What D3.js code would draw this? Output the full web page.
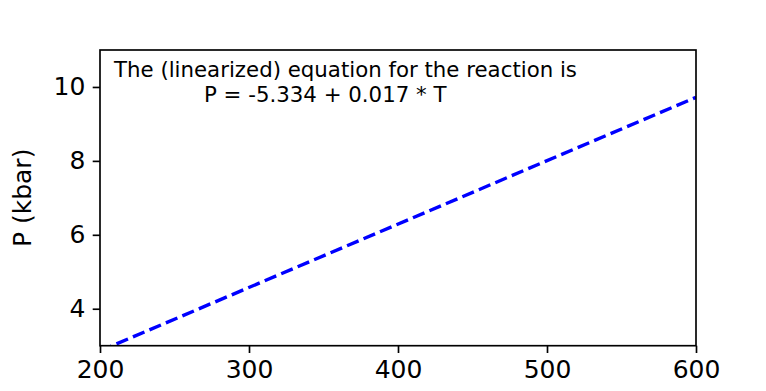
<!DOCTYPE html>
<html>
<head>
<meta charset="utf-8">
<script src="https://cdn.jsdelivr.net/npm/d3@7"></script>
<style>
  html, body { margin: 0; padding: 0; background: #fff; }
  svg { display: block; }
  text { font-family: "DejaVu Sans", sans-serif; fill: #000; }
</style>
</head>
<body>
<svg id="chart" width="766" height="391"></svg>
<script>
// Data
const temperatureT = [200, 600];
const pressureP = [2.86, 9.72];
const xTicks = [200, 300, 400, 500, 600];
const yTicks = [4, 6, 8, 10];
const annotationLines = ["The (linearized) equation for the reaction is", "P = -5.334 + 0.017 * T"];
const yLabel = "P (kbar)";

const W = 766, H = 391;
const m = { left: 100, right: 70, top: 50, bottom: 45.3 };
const svg = d3.select("#chart");

const x = d3.scaleLinear().domain([200, 600]).range([m.left, W - m.right]);
const y = d3.scaleLinear().domain([3, 11]).range([H - m.bottom, m.top]);

svg.append("rect").attr("width", W).attr("height", H).attr("fill", "#fff");

svg.append("clipPath").attr("id", "clip")
  .append("rect")
  .attr("x", x.range()[0]).attr("y", y.range()[1])
  .attr("width", x.range()[1] - x.range()[0])
  .attr("height", y.range()[0] - y.range()[1]);

const pts = temperatureT.map((t, i) => [t, pressureP[i]]);
svg.append("path")
  .datum(pts)
  .attr("clip-path", "url(#clip)")
  .attr("fill", "none")
  .attr("stroke", "#0000ff")
  .attr("stroke-width", 3.4)
  .attr("stroke-dasharray", "12.5,5.4")
  .attr("d", d3.line().x(d => x(d[0])).y(d => y(d[1])));

// Axes
const xAxis = d3.axisBottom(x).tickValues(xTicks).tickSize(7.3).tickPadding(7.3).tickFormat(d3.format("d"));
const yAxis = d3.axisLeft(y).tickValues(yTicks).tickSize(7.3).tickPadding(7.3).tickFormat(d3.format("d"));

const gx = svg.append("g").attr("transform", `translate(0,${y.range()[0]})`).call(xAxis);
const gy = svg.append("g").attr("transform", `translate(${x.range()[0]},0)`).call(yAxis);

[gx, gy].forEach(g => {
  g.select(".domain").remove();
  g.selectAll(".tick line").attr("stroke", "#000").attr("stroke-width", 1.67);
  g.selectAll(".tick text").attr("font-size", 25).attr("font-family", "DejaVu Sans, sans-serif").attr("fill", "#000");
});

// Frame
svg.append("rect")
  .attr("x", x.range()[0]).attr("y", y.range()[1])
  .attr("width", x.range()[1] - x.range()[0])
  .attr("height", y.range()[0] - y.range()[1])
  .attr("fill", "none").attr("stroke", "#000").attr("stroke-width", 1.67);

// Y label
svg.append("text")
  .attr("transform", `translate(31,${(y.range()[0] + y.range()[1]) / 2}) rotate(-90)`)
  .attr("text-anchor", "middle")
  .attr("font-size", 25)
  .text(yLabel);

// Annotation
svg.append("text").attr("x", 114).attr("y", 77).attr("font-size", 21.3).text(annotationLines[0]);
svg.append("text").attr("x", 204).attr("y", 102).attr("font-size", 21.3).text(annotationLines[1]);
</script>
</body>
</html>
